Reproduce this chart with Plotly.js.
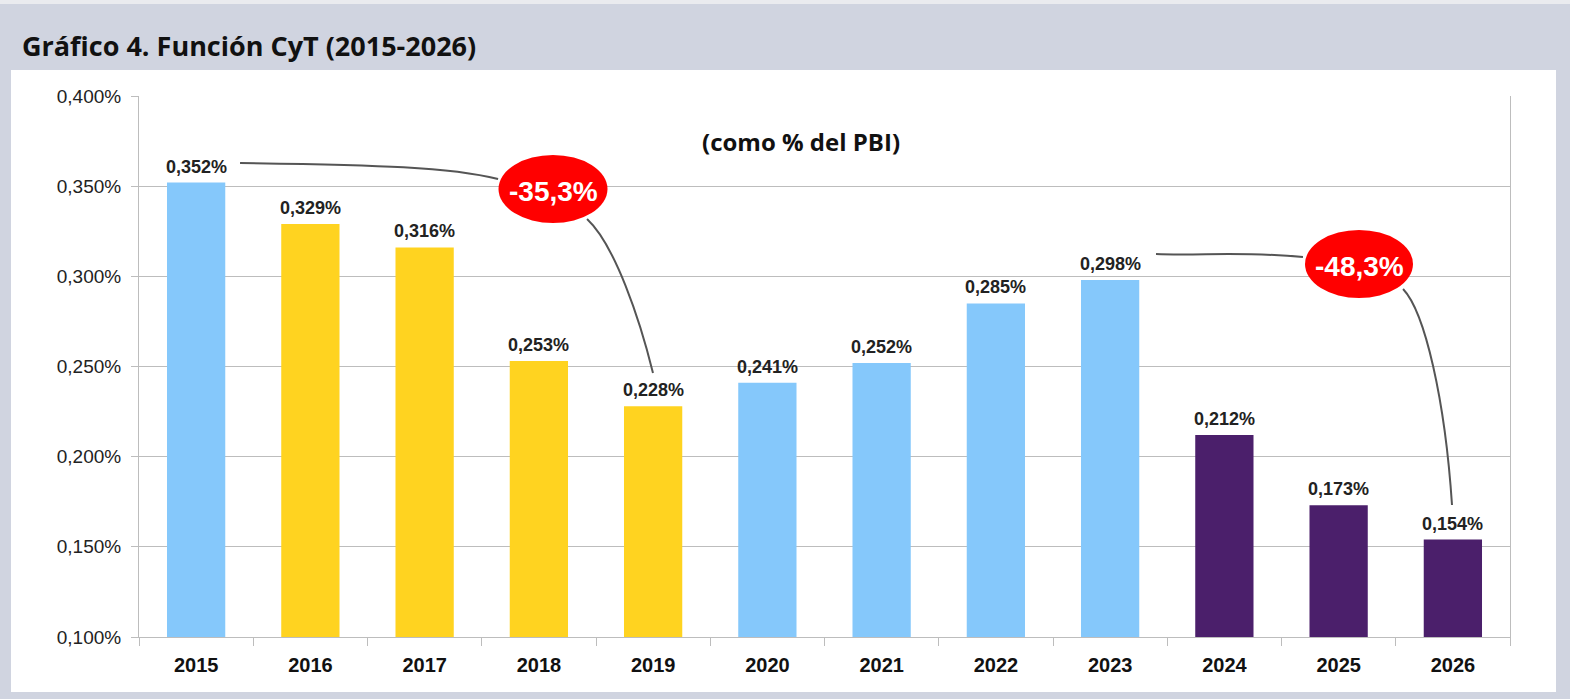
<!DOCTYPE html>
<html>
<head>
<meta charset="utf-8">
<script src="https://cdn.plot.ly/plotly-3.0.1.min.js"></script>
<style>
  html, body { margin: 0; padding: 0; background: #d0d4e0; }
  #chart { width: 1570px; height: 699px; }
</style>
</head>
<body>
<div id="chart"></div>
<script>
// datos del gráfico (como % del PBI)
const years = ['2015', '2016', '2017', '2018', '2019', '2020', '2021', '2022', '2023', '2024', '2025', '2026'];
const values = [0.352, 0.329, 0.316, 0.253, 0.228, 0.241, 0.252, 0.285, 0.298, 0.212, 0.173, 0.154];
const barColors = ['#85c8fb', '#ffd320', '#ffd320', '#ffd320', '#ffd320', '#85c8fb',
                   '#85c8fb', '#85c8fb', '#85c8fb', '#4b1f6b', '#4b1f6b', '#4b1f6b'];
const changes = ['-35,3%', '-48,3%'];

// margenes del área de trazado en píxeles
const L = 139, R = 1510, T = 96, B = 637;
const xp = px => (px - L) / (R - L);
const yp = py => (B - py) / (B - T);
const pt = (x, y) => xp(x).toFixed(4) + ',' + yp(y).toFixed(4);

const bars = {
  type: 'bar',
  x: years,
  y: values,
  marker: { color: barColors, line: { width: 0 } },
  hoverinfo: 'x+y'
};

// etiquetas sobre las barras (x como índice de categoría)
const labels = years.map((yr, i) => ({
  x: i, y: values[i], xref: 'x', yref: 'y',
  text: '<b>' + values[i].toFixed(3).replace('.', ',') + '%</b>',
  showarrow: false, yanchor: 'bottom', yshift: 4,
  font: { family: 'Liberation Sans, Arial', size: 18, color: '#222' }
}));

const bubble = (cx, cy, txt) => ({
  x: xp(cx), y: yp(cy), xref: 'paper', yref: 'paper',
  xanchor: 'center', yanchor: 'middle',
  text: '<b>' + txt + '</b>', showarrow: false,
  font: { family: 'Liberation Sans, Arial', size: 28, color: '#fff' }
});

const ellipse = (cx, cy, w, h) => ({
  type: 'circle', xref: 'paper', yref: 'paper', layer: 'above',
  x0: xp(cx - w / 2), x1: xp(cx + w / 2), y0: yp(cy + h / 2), y1: yp(cy - h / 2),
  fillcolor: '#ff0000', line: { width: 0 }
});

const curve = (p0, c1, c2, p1) => ({
  type: 'path', xref: 'paper', yref: 'paper', layer: 'above',
  path: 'M' + pt(...p0) + ' C' + pt(...c1) + ' ' + pt(...c2) + ' ' + pt(...p1),
  line: { color: '#555', width: 2 }
});

const layout = {
  width: 1570, height: 699,
  margin: { l: L, r: 1570 - R, t: T, b: 699 - B },
  paper_bgcolor: '#d0d4e0',
  plot_bgcolor: 'rgba(0,0,0,0)',
  separators: ',.',
  showlegend: false,
  bargap: 0.49,
  xaxis: {
    type: 'category', range: [-0.5, years.length - 0.5], autorange: false,
    tickson: 'boundaries', ticks: 'outside', ticklen: 8, tickcolor: '#bdbdbd',
    showline: true, linecolor: '#bdbdbd',
    showgrid: false, tickangle: 0,
    ticklabelstandoff: 10,
    tickfont: { family: 'Liberation Sans, Arial', size: 20, color: '#111', weight: 'bold' }
  },
  yaxis: {
    range: [0.1, 0.4], autorange: false, dtick: 0.05, tickformat: '.3f', ticksuffix: '%',
    ticks: 'outside', ticklen: 7, tickcolor: '#bdbdbd',
    showline: true, linecolor: '#bdbdbd', mirror: true,
    gridcolor: '#bdbdbd', gridwidth: 1, zeroline: false,
    ticklabelstandoff: 6,
    tickfont: { family: 'Liberation Sans, Arial', size: 19, color: '#222' }
  },
  shapes: [
    // franja superior y caja blanca
    { type: 'rect', xref: 'paper', yref: 'paper', layer: 'below',
      x0: xp(0), x1: xp(1570), y0: yp(4), y1: yp(0), fillcolor: '#eaebef', line: { width: 0 } },
    { type: 'rect', xref: 'paper', yref: 'paper', layer: 'below',
      x0: xp(11), x1: xp(1556), y0: yp(692), y1: yp(70), fillcolor: '#ffffff', line: { width: 0 } },
    curve([240, 163], [380, 165], [450, 167], [498, 179]),
    curve([587, 219], [615, 245], [640, 320], [653, 373]),
    curve([1156, 254], [1200, 256], [1240, 251], [1303, 257]),
    curve([1403, 289], [1425, 312], [1445, 400], [1452, 505]),
    ellipse(553, 189, 109, 68),
    ellipse(1359, 264, 108, 68)
  ],
  annotations: [
    { x: xp(20), y: yp(46), xref: 'paper', yref: 'paper', xanchor: 'left', yanchor: 'middle',
      text: '<b>Gráfico 4. Función CyT (2015-2026)</b>', showarrow: false,
      font: { family: 'Open Sans', size: 27, color: '#111' } },
    { x: xp(801), y: yp(142), xref: 'paper', yref: 'paper', xanchor: 'center', yanchor: 'middle',
      text: '<b>(como % del PBI)</b>', showarrow: false,
      font: { family: 'Open Sans', size: 24, color: '#111' } },
    bubble(553, 191, changes[0]),
    bubble(1359, 266, changes[1]),
    ...labels
  ]
};

Plotly.newPlot('chart', [bars], layout, { displayModeBar: false });
</script>
</body>
</html>
